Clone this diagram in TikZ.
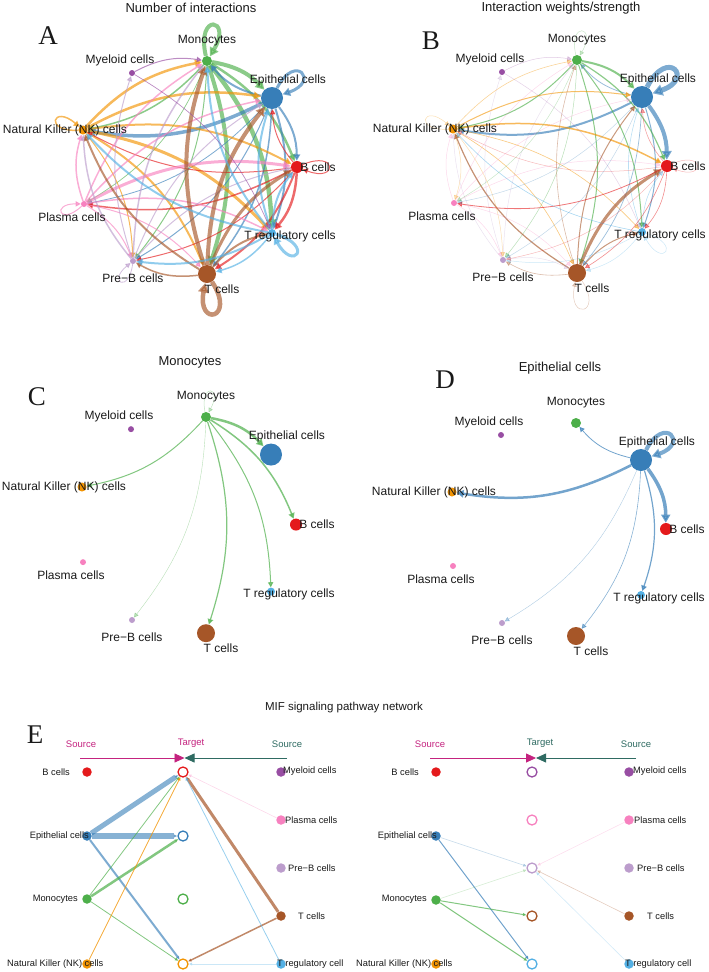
\documentclass[tikz,border=0pt]{standalone}
\usepackage{fontspec}
\setmainfont{Liberation Sans}
\newfontfamily\serifA{Liberation Serif}
\usetikzlibrary{arrows.meta}
\pgfdeclarelayer{edgelayer}
\pgfsetlayers{edgelayer,main}
\definecolor{Cb}{HTML}{E41A1C}
\definecolor{Cepi}{HTML}{377EB8}
\definecolor{Cmono}{HTML}{4DAF4A}
\definecolor{Cmye}{HTML}{984EA3}
\definecolor{Cnk}{HTML}{F29403}
\definecolor{Cpla}{HTML}{F781BF}
\definecolor{Cpreb}{HTML}{BC9DCC}
\definecolor{Ctc}{HTML}{A65628}
\definecolor{Ctreg}{HTML}{54B0E4}
\definecolor{Cmag}{HTML}{C4237F}
\definecolor{Cteal}{HTML}{2F6B62}
\newcommand\cellnodes[1]{%
\node[cn=Cmono,minimum size=10pt] (#1mono) at (0,0) {};
\node[cn=Cmye,minimum size=6pt] (#1mye) at (-75,12) {};
\node[cn=Cepi,minimum size=22pt] (#1epi) at (65,37) {};
\node[cn=Cnk,minimum size=9pt] (#1nk) at (-124,69) {};
\node[cn=Cb,minimum size=12pt] (#1bc) at (90,106) {};
\node[cn=Cpla,minimum size=6pt] (#1pla) at (-123,143) {};
\node[cn=Ctreg,minimum size=8pt] (#1treg) at (65,172) {};
\node[cn=Cpreb,minimum size=6pt] (#1preb) at (-74,200) {};
\node[cn=Ctc,minimum size=18pt] (#1tc) at (0,213) {};
\node[lab] (#1Lmono) at ([shift={(0,-20)}]#1mono) {Monocytes};
\node[lab] (#1Lmye) at ([shift={(-12,-13)}]#1mye) {Myeloid cells};
\node[lab] (#1Lepi) at ([shift={(16,-18)}]#1epi) {Epithelial cells};
\node[lab] (#1Lnk) at ([shift={(-18,0)}]#1nk) {Natural Killer (NK) cells};
\node[lab] (#1Lbc) at ([shift={(21,0)}]#1bc) {B cells};
\node[lab] (#1Lpla) at ([shift={(-12,13)}]#1pla) {Plasma cells};
\node[lab] (#1Ltreg) at ([shift={(18,3)}]#1treg) {T regulatory cells};
\node[lab] (#1Lpreb) at ([shift={(0,17)}]#1preb) {Pre−B cells};
\node[lab] (#1Ltc) at ([shift={(15,15)}]#1tc) {T cells};
}
\begin{document}
\begin{tikzpicture}[x=1pt,y=-1pt,
  cn/.style={circle,inner sep=0pt,fill=#1,draw=none},
  lab/.style={font=\fontsize{12}{14}\selectfont,inner sep=0pt,text=black!90},
  ttl/.style={font=\fontsize{13}{15}\selectfont,inner sep=0pt,text=black!90},
  ttlE/.style={font=\fontsize{11.5}{13}\selectfont,inner sep=0pt,text=black!90},
  plet/.style={font=\serifA\fontsize{27}{29}\selectfont,inner sep=0pt,text=black!90},
  ed/.style={draw=#1,-{Triangle[length=4pt 1.2,width=4pt 1.4]},bend left=18},
  lp/.style={draw=#1,-{Triangle[length=4pt 1.2,width=4pt 1.4]}},
  eE/.style={draw=#1,-{Triangle[length=3.5pt,width=3pt]}},
  srcE/.style={circle,inner sep=0pt,fill=#1,minimum size=9.5pt},
  tgtE/.style={circle,inner sep=0pt,draw=#1,line width=1.3pt,fill=white,minimum size=10pt},
  labE/.style={font=\fontsize{9.3}{11}\selectfont,inner sep=0pt,text=black!90},
  hdE/.style={font=\fontsize{9.5}{11}\selectfont,inner sep=0pt}]
\useasboundingbox (0,0) rectangle (709,972);
% titles and letters
\node[ttl] (tA) at (191,8) {Number of interactions};
\node[ttl] (tB) at (561,8) {Interaction weights/strength};
\node[ttl] (tC) at (190,362) {Monocytes};
\node[ttl] (tD) at (560,368) {Epithelial cells};
\node[ttlE] (tE) at (344,708) {MIF signaling pathway network};
\node[plet] (pA) at (48,36) {A};
\node[plet] (pB) at (431,41) {B};
\node[plet] (pC) at (37,397) {C};
\node[plet] (pD) at (445,380) {D};
\node[plet] (pE) at (35,735) {E};
% panel nodes
\begin{scope}[shift={(207,61)}]\cellnodes{a}\end{scope}
\begin{scope}[shift={(577,60)}]\cellnodes{b}\end{scope}
\begin{scope}[shift={(206,417)},yscale=1.015]\cellnodes{c}\end{scope}
\begin{scope}[shift={(576,423)}]\cellnodes{d}\end{scope}
\begin{pgfonlayer}{edgelayer}
% ---- panel A
\foreach \n/\c/\w/\ao/\ai/\d in {mono/Cmono/4/103/59/45, epi/Cepi/3/63/19/40, bc/Cb/1/23/-21/38, treg/Ctreg/3/-17/-61/40, tc/Ctc/4.5/-57/-101/45, preb/Cpreb/0.8/-97/-141/30, pla/Cpla/1/-137/-181/30, nk/Cnk/1.5/183/139/35}
  \draw[lp=\c,line width=\w pt,opacity=.65] (a\n) to[out=\ao,in=\ai,min distance=\d pt] (a\n);
\foreach \s/\t/\c/\w in {mono/epi/Cmono/4, mono/bc/Cmono/2.5, mono/treg/Cmono/4.5, mono/tc/Cmono/4, mono/nk/Cmono/1.5, mono/preb/Cmono/1, mono/pla/Cmono/.7,
  epi/mono/Cepi/2, epi/nk/Cepi/3.5, epi/bc/Cepi/2, epi/treg/Cepi/2, epi/tc/Cepi/1.5, epi/preb/Cepi/1, epi/pla/Cepi/.8,
  nk/mono/Cnk/2.5, nk/epi/Cnk/2.5, nk/bc/Cnk/2, nk/treg/Cnk/3, nk/tc/Cnk/2, nk/preb/Cnk/1,
  bc/treg/Cb/2.5, bc/tc/Cb/2, bc/pla/Cb/1.5, bc/epi/Cb/1, bc/nk/Cb/1, bc/preb/Cb/1,
  pla/bc/Cpla/3, pla/mono/Cpla/1.5, pla/epi/Cpla/1.5, pla/nk/Cpla/1.5, pla/preb/Cpla/1, pla/treg/Cpla/1.5, pla/tc/Cpla/1,
  preb/mono/Cpreb/1.5, preb/nk/Cpreb/1.5, preb/mye/Cpreb/1, preb/epi/Cpreb/1, preb/bc/Cpreb/1,
  tc/mono/Ctc/4, tc/epi/Ctc/4, tc/bc/Ctc/3, tc/treg/Ctc/2, tc/nk/Ctc/2, tc/preb/Ctc/1.5,
  treg/mono/Ctreg/2, treg/epi/Ctreg/2, treg/bc/Ctreg/2, treg/nk/Ctreg/2, treg/preb/Ctreg/2, treg/tc/Ctreg/1.5,
  mye/mono/Cmye/1, mye/treg/Cmye/.7}
  \draw[ed=\c,line width=\w pt,opacity=.65] (a\s) to (a\t);
% ---- panel B
\foreach \n/\c/\w/\o/\ao/\ai/\d in {epi/Cepi/5/.65/63/19/45, mono/Cmono/.5/.3/103/59/35, tc/Ctc/.5/.3/-57/-101/40, treg/Ctreg/.5/.3/-17/-61/38, bc/Cb/.5/.3/23/-21/35, nk/Cnk/.5/.3/183/139/35}
  \draw[lp=\c,line width=\w pt,opacity=\o] (b\n) to[out=\ao,in=\ai,min distance=\d pt] (b\n);
\foreach \s/\t/\c/\w/\o in {epi/bc/Cepi/4/.65, epi/nk/Cepi/2/.65, epi/treg/Cepi/1/.6, epi/tc/Cepi/.7/.5, epi/mono/Cepi/.8/.5,
  mono/epi/Cmono/2/.65, mono/bc/Cmono/1.2/.65, mono/nk/Cmono/1/.65, mono/tc/Cmono/1/.65, mono/treg/Cmono/1/.65, mono/preb/Cmono/.5/.4,
  nk/bc/Cnk/1.5/.65, nk/epi/Cnk/1/.6, nk/tc/Cnk/.6/.5, nk/treg/Cnk/.6/.5, nk/mono/Cnk/.6/.4,
  tc/bc/Ctc/3/.65, tc/nk/Ctc/1.2/.65, tc/treg/Ctc/1/.6, tc/epi/Ctc/1/.6, tc/mono/Ctc/.6/.4, tc/preb/Ctc/.6/.4,
  treg/nk/Ctreg/.6/.5, treg/bc/Ctreg/.6/.4, treg/epi/Ctreg/.6/.4, treg/preb/Ctreg/.5/.3, treg/tc/Ctreg/.5/.3,
  bc/pla/Cb/.8/.6, bc/treg/Cb/.6/.5, bc/tc/Cb/.6/.5, bc/epi/Cb/.6/.4, bc/preb/Cb/.5/.3, bc/nk/Cb/.5/.3,
  pla/bc/Cpla/.5/.3, pla/mono/Cpla/.5/.3, pla/nk/Cpla/.5/.3, pla/preb/Cpla/.5/.3, pla/epi/Cpla/.5/.3, pla/tc/Cpla/.5/.3,
  preb/mye/Cpreb/.5/.3, preb/nk/Cpreb/.5/.3, preb/mono/Cpreb/.5/.3, preb/tc/Cpreb/.5/.3,
  mye/mono/Cmye/.5/.3, mye/treg/Cmye/.5/.25, epi/preb/Cepi/.5/.3, epi/pla/Cepi/.5/.3, mono/pla/Cmono/.5/.3, nk/preb/Cnk/.5/.3, nk/pla/Cnk/.5/.3}
  \draw[ed=\c,line width=\w pt,opacity=\o] (b\s) to (b\t);
% ---- panel C
\draw[lp=Cmono,line width=.5pt,opacity=.35] (cmono) to[out=101,in=61,min distance=30pt] (cmono);
\foreach \t/\w/\o in {nk/1/.7, epi/2.5/.7, bc/1.5/.7, treg/1/.7, tc/1.2/.7, preb/.4/.4}
  \draw[ed=Cmono,line width=\w pt,opacity=\o] (cmono) to (c\t);
% ---- panel D
\draw[lp=Cepi,line width=4pt,opacity=.65] (depi) to[out=63,in=19,min distance=40pt] (depi);
\foreach \t/\w/\o in {mono/.8/.7, nk/2.5/.7, bc/3.5/.7, treg/1.2/.7, tc/.6/.6, preb/.4/.4}
  \draw[ed=Cepi,line width=\w pt,opacity=\o] (depi) to (d\t);
\end{pgfonlayer}
% ================= panel E
% header left
\coordinate (h1a) at (80,758); \coordinate (h1m) at (184.5,758); \coordinate (h1b) at (287,758);
\draw[Cmag,line width=.8pt,-{Triangle[length=10pt,width=9pt]}] (h1a) -- (h1m);
\draw[Cteal,line width=.8pt,-{Triangle[length=10pt,width=9pt]}] (h1b) -- (h1m);
\node[hdE,text=Cmag] (s1a) at (81,744) {Source};
\node[hdE,text=Cmag] (s1t) at (191,743) {Target};
\node[hdE,text=Cteal] (s1b) at (287,744) {Source};
% header right
\coordinate (h2a) at (430,758); \coordinate (h2m) at (536,758); \coordinate (h2b) at (636,758);
\draw[Cmag,line width=.8pt,-{Triangle[length=10pt,width=9pt]}] (h2a) -- (h2m);
\draw[Cteal,line width=.8pt,-{Triangle[length=10pt,width=9pt]}] (h2b) -- (h2m);
\node[hdE,text=Cmag] (s2a) at (430,744) {Source};
\node[hdE,text=Cteal] (s2t) at (540,743) {Target};
\node[hdE,text=Cteal] (s2b) at (636,744) {Source};
% left half nodes
\node[srcE=Cb] (e1b) at (87,772) {};
\node[srcE=Cepi] (e1epi) at (87,836) {};
\node[srcE=Cmono] (e1mono) at (87,899) {};
\node[srcE=Cnk] (e1nk) at (87,964) {};
\node[tgtE=Cb] (e1tb) at (183,772) {};
\node[tgtE=Cepi] (e1tepi) at (183,836) {};
\node[tgtE=Cmono] (e1tmono) at (183,899) {};
\node[tgtE=Cnk] (e1tnk) at (183,964) {};
\node[srcE=Cmye] (e1mye) at (281,772) {};
\node[srcE=Cpla] (e1pla) at (281,820) {};
\node[srcE=Cpreb] (e1preb) at (281,868) {};
\node[srcE=Ctc] (e1tc) at (281,916) {};
\node[srcE=Ctreg] (e1treg) at (281,964) {};
% right half nodes
\node[srcE=Cb] (e2b) at (436,772) {};
\node[srcE=Cepi] (e2epi) at (436,836) {};
\node[srcE=Cmono] (e2mono) at (436,900) {};
\node[srcE=Cnk] (e2nk) at (436,964) {};
\node[tgtE=Cmye] (e2tmye) at (532,772) {};
\node[tgtE=Cpla] (e2tpla) at (532,820) {};
\node[tgtE=Cpreb] (e2tpreb) at (532,868) {};
\node[tgtE=Ctc] (e2ttc) at (532,916) {};
\node[tgtE=Ctreg] (e2ttreg) at (532,964) {};
\node[srcE=Cmye] (e2mye) at (629,772) {};
\node[srcE=Cpla] (e2pla) at (629,820) {};
\node[srcE=Cpreb] (e2preb) at (629,868) {};
\node[srcE=Ctc] (e2tc) at (629,916) {};
\node[srcE=Ctreg] (e2treg) at (629,964) {};
\begin{pgfonlayer}{edgelayer}
\foreach \s/\t/\c/\w/\o in {e1epi/e1tb/Cepi/5/.6, e1epi/e1tepi/Cepi/6/.6, e1epi/e1tnk/Cepi/2/.65,
  e1mono/e1tb/Cmono/.8/.7, e1mono/e1tepi/Cmono/2.5/.7, e1mono/e1tnk/Cmono/.8/.7,
  e1nk/e1tb/Cnk/.8/.8, e1tc/e1tb/Ctc/3/.7, e1tc/e1tnk/Ctc/1.5/.7,
  e1pla/e1tb/Cpla/.6/.3, e1treg/e1tb/Ctreg/.8/.6, e1treg/e1tnk/Ctreg/1/.3,
  e2epi/e2tpreb/Cepi/.6/.3, e2epi/e2ttreg/Cepi/1/.7, e2mono/e2tpreb/Cmono/.6/.25,
  e2mono/e2ttc/Cmono/1/.7, e2mono/e2ttreg/Cmono/1/.7, e2pla/e2tpreb/Cpla/.6/.25,
  e2tc/e2tpreb/Ctc/.6/.3, e2treg/e2tpreb/Ctreg/.6/.25}
  \draw[eE=\c,line width=\w pt,opacity=\o] (\s) -- (\t);
\end{pgfonlayer}
% labels E
\node[labE,anchor=east] (l1b) at (70,772) {B cells};
\node[labE,anchor=east] (l1epi) at (89,836) {Epithelial cells};
\node[labE,anchor=east] (l1mono) at (78,899) {Monocytes};
\node[labE,anchor=west] (l1nk) at (7,964) {Natural Killer (NK) cells};
\node[labE,anchor=west] (l1mye) at (283,771) {Myeloid cells};
\node[labE,anchor=west] (l1pla) at (285,820) {Plasma cells};
\node[labE,anchor=west] (l1preb) at (288,868) {Pre−B cells};
\node[labE,anchor=west] (l1tc) at (298,916) {T cells};
\node[labE,anchor=west] (l1treg) at (277,964) {T regulatory cell};
\node[labE,anchor=east] (l2b) at (419,772) {B cells};
\node[labE,anchor=east] (l2epi) at (437,836) {Epithelial cells};
\node[labE,anchor=east] (l2mono) at (427,899) {Monocytes};
\node[labE,anchor=west] (l2nk) at (356,964) {Natural Killer (NK) cells};
\node[labE,anchor=west] (l2mye) at (633,771) {Myeloid cells};
\node[labE,anchor=west] (l2pla) at (634,820) {Plasma cells};
\node[labE,anchor=west] (l2preb) at (637,868) {Pre−B cells};
\node[labE,anchor=west] (l2tc) at (647,916) {T cells};
\node[labE,anchor=west] (l2treg) at (625,964) {T regulatory cell};
\end{tikzpicture}
\end{document}
